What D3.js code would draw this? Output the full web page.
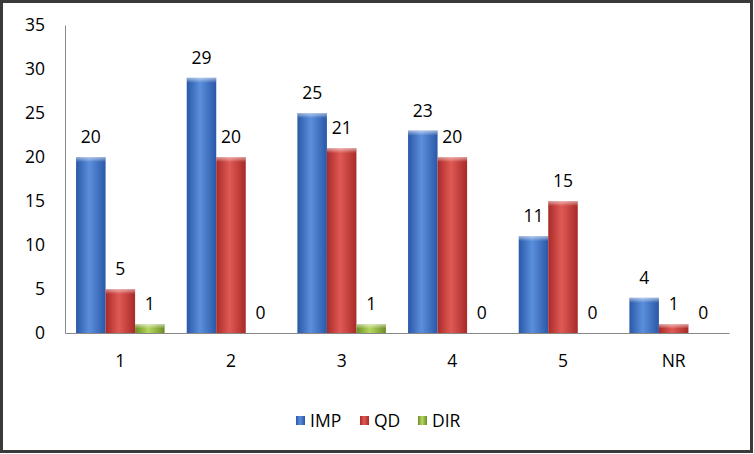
<!DOCTYPE html>
<html><head><meta charset="utf-8">
<script src="https://cdn.jsdelivr.net/npm/d3@7"></script>
<style>body{margin:0;background:#fff}svg{display:block}</style>
</head><body>
<svg id="c" width="754" height="454"></svg>
<script>
const categories = ["1","2","3","4","5","NR"];
const seriesNames = ["IMP","QD","DIR"];
const IMP = [20,29,25,23,11,4];
const QD  = [5,20,21,20,15,1];
const DIR = [1,0,1,0,0,0];
const yTicks = [0,5,10,15,20,25,30,35];
const colors = {IMP:["#2a58a8","#5b8fdc","#2a58a8"], QD:["#a82a28","#e05a55","#a82a28"], DIR:["#6d8d24","#b5d860","#6d8d24"]};
const values = {IMP, QD, DIR};

const svg = d3.select("#c");
const W=754,H=454;
const font = "'Open Sans', sans-serif";
const fs = 17.5;
svg.append("rect").attr("x",1.5).attr("y",1.5).attr("width",W-4).attr("height",H-4)
  .attr("fill","#fff").attr("stroke","#3a3a3a").attr("stroke-width",3);

const defs = svg.append("defs");
seriesNames.forEach(s=>{
  const g = defs.append("linearGradient").attr("id","g"+s).attr("x1","0").attr("x2","1").attr("y1","0").attr("y2","0");
  g.append("stop").attr("offset","0%").attr("stop-color",colors[s][0]);
  g.append("stop").attr("offset","45%").attr("stop-color",colors[s][1]);
  g.append("stop").attr("offset","100%").attr("stop-color",colors[s][2]);
  const t = defs.append("linearGradient").attr("id","t"+s).attr("x1","0").attr("x2","0").attr("y1","0").attr("y2","1");
  t.append("stop").attr("offset","0%").attr("stop-color","#fff").attr("stop-opacity",0.55);
  t.append("stop").attr("offset","100%").attr("stop-color","#fff").attr("stop-opacity",0);
});

const pL=65, pR=729, pT=25, pB=333;
const x0 = d3.scaleBand().domain(categories).range([pL,pR]).paddingInner(0.2).paddingOuter(0.1);
const x1 = d3.scaleBand().domain(seriesNames).range([0,x0.bandwidth()]);
const y = d3.scaleLinear().domain([0,35]).range([pB,pT]);

// y axis
const ya = d3.axisLeft(y).tickValues(yTicks).tickSize(0).tickPadding(20);
const yg = svg.append("g").attr("transform",`translate(${pL},0)`).call(ya);
yg.select(".domain").attr("stroke","#888");
yg.selectAll("text").attr("font-family",font).attr("font-size",fs).attr("fill","#000");

// x axis
const xa = d3.axisBottom(d3.scaleBand().domain(categories).range([pL,pR])).tickSize(0).tickPadding(22);
const xg = svg.append("g").attr("transform",`translate(0,${pB})`).call(xa);
xg.select(".domain").attr("stroke","#888");
xg.selectAll("text").attr("font-family",font).attr("font-size",fs).attr("fill","#000");

const groups = svg.append("g").selectAll("g").data(categories).join("g")
  .attr("transform",d=>`translate(${x0(d)},0)`);
seriesNames.forEach(s=>{
  groups.each(function(c,i){
    const v = values[s][i];
    const g = d3.select(this);
    const bx = x1(s), bw = x1.bandwidth();
    if(v>0){
      g.append("rect").attr("x",bx).attr("y",y(v)).attr("width",bw).attr("height",y(0)-y(v))
        .attr("fill",`url(#g${s})`);
      const th = Math.min(5, (y(0)-y(v))/2);
      g.append("rect").attr("x",bx).attr("y",y(v)).attr("width",bw).attr("height",th)
        .attr("fill",`url(#t${s})`);
    }
    g.append("text").attr("x",bx+bw/2).attr("y",y(v)-14).attr("text-anchor","middle")
      .attr("font-family",font).attr("font-size",fs).attr("fill","#000").text(v);
  });
});

// legend
const legX = [296,360,418];
const lg = svg.append("g");
seriesNames.forEach((s,i)=>{
  lg.append("rect").attr("x",legX[i]).attr("y",416).attr("width",9).attr("height",9).attr("fill",`url(#g${s})`);
  lg.append("text").attr("x",legX[i]+14).attr("y",427).attr("font-family",font).attr("font-size",fs).text(s);
});
</script>
</body></html>
